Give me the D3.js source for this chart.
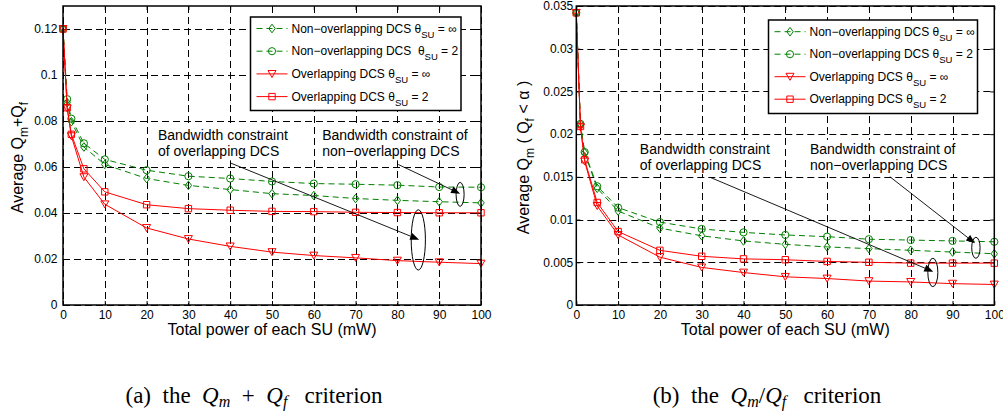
<!DOCTYPE html>
<html><head><meta charset="utf-8">
<script src="https://cdn.jsdelivr.net/npm/d3@7/dist/d3.min.js"></script>
<style>body{margin:0;background:#fff}svg{display:block}text{white-space:pre}</style>
</head><body>
<svg id="chart" width="1003" height="416"></svg>
<script>
// ---------------- data ----------------
const powerMW = [0, 1, 2, 5, 10, 20, 30, 40, 50, 60, 70, 80, 90, 100];
const xTicks = [0, 10, 20, 30, 40, 50, 60, 70, 80, 90, 100];
const xTickLabels = ["0","10","20","30","40","50","60","70","80","90","100"];

// (a) Qm + Qf criterion
const sumNonOvInf = [0.12, 0.088, 0.0797, 0.0687, 0.0611, 0.0550, 0.0520, 0.0502, 0.0484, 0.0476, 0.0463, 0.0455, 0.0449, 0.0444];
const sumNonOv2   = [0.12, 0.0895, 0.0810, 0.0703, 0.0633, 0.0586, 0.0560, 0.0550, 0.0537, 0.0528, 0.0525, 0.0521, 0.0513, 0.0512];
const sumOvInf    = [0.12, 0.0855, 0.0734, 0.0556, 0.0438, 0.0335, 0.0287, 0.0255, 0.0230, 0.0215, 0.0205, 0.0193, 0.0186, 0.0180];
const sumOv2      = [0.12, 0.0858, 0.0742, 0.0592, 0.0492, 0.0436, 0.0419, 0.0412, 0.0407, 0.0406, 0.0403, 0.0402, 0.0401, 0.0401];
const sumYTicks = [0, 0.02, 0.04, 0.06, 0.08, 0.1, 0.12];
const sumYTickLabels = ["0","0.02","0.04","0.06","0.08","0.1","0.12"];

// (b) Qm / Qf criterion
const ratioNonOvInf = [0.0342, 0.0212, 0.0178, 0.01366, 0.0110, 0.0090, 0.0081, 0.0075, 0.0071, 0.0068, 0.0066, 0.0064, 0.0062, 0.0060];
const ratioNonOv2   = [0.0342, 0.0212, 0.0179, 0.0139, 0.0114, 0.0097, 0.0089, 0.0085, 0.0082, 0.0080, 0.0077, 0.0076, 0.0075, 0.0074];
const ratioOvInf    = [0.0342, 0.0208, 0.0168, 0.0116, 0.0082, 0.0056, 0.0044, 0.0038, 0.0033, 0.0031, 0.0028, 0.0027, 0.0025, 0.0024];
const ratioOv2      = [0.0342, 0.0209, 0.0170, 0.0120, 0.0086, 0.0064, 0.0057, 0.0054, 0.0053, 0.0051, 0.0050, 0.0049, 0.0049, 0.0049];
const ratioYTicks = [0, 0.005, 0.01, 0.015, 0.02, 0.025, 0.03, 0.035];
const ratioYTickLabels = ["0","0.005","0.01","0.015","0.02","0.025","0.03","0.035"];

// annotation anchors in data units [x (mW), y]
const sumNotes = {
  text1: [22.7, 0.0716], text2: [62.0, 0.0716],
  arrow1: [[40.0, 0.0618], [85.2, 0.0284]], ellipse1: [85.0, 0.0283, 1.7, 0.0131],
  arrow2: [[80.2, 0.0611], [95.0, 0.0484]], ellipse2: [95.0, 0.0481, 0.96, 0.0052]
};
const ratioNotes = {
  text1: [15.2, 0.01768], text2: [55.9, 0.01768],
  arrow1: [[32.0, 0.01495], [85.4, 0.0039]], ellipse1: [85.3, 0.00381, 1.2, 0.00166],
  arrow2: [[75.0, 0.01502], [95.4, 0.00722]], ellipse2: [95.6, 0.00670, 1.0, 0.00123]
};
const noteText1 = ["Bandwidth constraint", "of overlapping DCS"];
const noteText2 = ["Bandwidth constraint of", "non\u2212overlapping DCS"];

// ---------------- styles ----------------
const GREEN = "#008000", RED = "#ff0000";
const FONT = "'Liberation Sans', Arial, Helvetica, sans-serif";
const svg = d3.select("#chart");

function seriesDefs(a, b, c, d, wideGap) {
  return [
    {values: a, color: GREEN, dash: "6,4", marker: "diamond", pre: "Non\u2212overlapping DCS \u03b8", post: " = \u221e"},
    {values: b, color: GREEN, dash: "6,4", marker: "circle", pre: wideGap ? "Non\u2212overlapping DCS  \u03b8" : "Non\u2212overlapping DCS \u03b8", post: " = 2"},
    {values: c, color: RED, dash: null, marker: "tri", pre: "Overlapping DCS \u03b8", post: " = \u221e"},
    {values: d, color: RED, dash: null, marker: "square", pre: "Overlapping DCS \u03b8", post: " = 2"}
  ];
}

function drawMarker(sel, type, color) {
  if (type === "circle") {
    sel.append("circle").attr("r", 3.6).attr("fill", "none").attr("stroke", color).attr("stroke-width", 1);
  } else {
    let p;
    if (type === "diamond") p = "M0,-4.3L3.2,0L0,4.3L-3.2,0Z";
    else if (type === "tri") p = "M-4,-3.4L4,-3.4L0,3.6Z";
    else p = "M-3.2,-3.2L3.2,-3.2L3.2,3.2L-3.2,3.2Z";
    sel.append("path").attr("d", p).attr("fill", "none").attr("stroke", color).attr("stroke-width", 1);
  }
}

function drawPanel(p) {
  const x = d3.scaleLinear().domain([0, 100]).range([p.left, p.right]);
  const y = d3.scaleLinear().domain(p.yDomain).range([p.bottom, p.top]);
  const g = svg.append("g");

  // grid
  g.append("g").selectAll("line").data(xTicks).join("line")
    .attr("x1", d => Math.round(x(d)) + 0.5).attr("x2", d => Math.round(x(d)) + 0.5).attr("y1", p.top).attr("y2", p.bottom)
    .attr("stroke", "#000").attr("stroke-width", 1).attr("stroke-dasharray", "7,4");
  g.append("g").selectAll("line").data(p.yTicks).join("line")
    .attr("x1", p.left).attr("x2", p.right).attr("y1", d => Math.round(y(d)) + 0.5).attr("y2", d => Math.round(y(d)) + 0.5)
    .attr("stroke", "#000").attr("stroke-width", 1).attr("stroke-dasharray", "7,4");

  // axes
  const fmtX = (d, i) => xTickLabels[i];
  const fmtY = (d, i) => p.yLabels[i];
  const ax = [
    g.append("g").attr("transform", `translate(0,${p.bottom})`).call(d3.axisBottom(x).tickValues(xTicks).tickFormat(fmtX).tickSize(-4).tickSizeOuter(0).tickPadding(5)),
    g.append("g").attr("transform", `translate(0,${p.top})`).call(d3.axisTop(x).tickValues(xTicks).tickFormat("").tickSize(-4).tickSizeOuter(0)),
    g.append("g").attr("transform", `translate(${p.left},0)`).call(d3.axisLeft(y).tickValues(p.yTicks).tickFormat(fmtY).tickSize(-4).tickSizeOuter(0).tickPadding(p.yPad)),
    g.append("g").attr("transform", `translate(${p.right},0)`).call(d3.axisRight(y).tickValues(p.yTicks).tickFormat("").tickSize(-4).tickSizeOuter(0))
  ];
  ax.forEach(a => {
    a.select(".domain").remove();
    a.selectAll("text").attr("font-family", FONT).attr("font-size", 12).attr("fill", "#000");
    a.selectAll("line").attr("stroke", "#000");
  });

  // annotation texts with white background
  [[p.notes.text1, noteText1], [p.notes.text2, noteText2]].forEach(([pos, lines]) => {
    const tg = g.append("g");
    const t = tg.append("text").attr("font-family", FONT).attr("font-size", 14).attr("fill", "#000");
    lines.forEach((s, i) => t.append("tspan").attr("x", x(pos[0])).attr("y", y(pos[1]) + i * 16).text(s));
    const bb = t.node().getBBox();
    tg.insert("rect", "text").attr("x", bb.x - 1).attr("y", bb.y - 1).attr("width", bb.width + 2).attr("height", bb.height + 2).attr("fill", "#fff");
  });

  // series
  const line = d3.line().x((d, i) => x(powerMW[i])).y(d => y(d));
  p.series.forEach(s => {
    g.append("path").datum(s.values).attr("d", line).attr("fill", "none")
      .attr("stroke", s.color).attr("stroke-width", 1).attr("stroke-dasharray", s.dash);
    s.values.forEach((v, i) => {
      const m = g.append("g").attr("transform", `translate(${x(powerMW[i])},${y(v)})`);
      drawMarker(m, s.marker, s.color);
    });
  });

  // arrows and ellipses
  [[p.notes.arrow1, p.notes.ellipse1], [p.notes.arrow2, p.notes.ellipse2]].forEach(([ar, el]) => {
    const x0 = x(ar[0][0]), y0 = y(ar[0][1]), x1 = x(ar[1][0]), y1 = y(ar[1][1]);
    const ang = Math.atan2(y1 - y0, x1 - x0);
    const L = 9, W = 3.6;
    const bx = x1 - L * Math.cos(ang), by = y1 - L * Math.sin(ang);
    g.append("line").attr("x1", x0).attr("y1", y0).attr("x2", bx).attr("y2", by).attr("stroke", "#000").attr("stroke-width", 0.9);
    g.append("path").attr("d", `M${x1},${y1}L${bx + W * Math.sin(ang)},${by - W * Math.cos(ang)}L${bx - W * Math.sin(ang)},${by + W * Math.cos(ang)}Z`).attr("fill", "#000");
    g.append("ellipse").attr("cx", x(el[0])).attr("cy", y(el[1]))
      .attr("rx", x(el[0] + el[2]) - x(el[0])).attr("ry", y(el[1]) - y(el[1] + el[3]))
      .attr("fill", "none").attr("stroke", "#000").attr("stroke-width", 1);
  });

  // border
  g.append("rect").attr("x", p.left).attr("y", p.top).attr("width", p.right - p.left).attr("height", p.bottom - p.top)
    .attr("fill", "none").attr("stroke", "#000").attr("stroke-width", 1.5);

  // legend
  const lg = g.append("g").attr("transform", `translate(${p.legend.x},${p.legend.y})`);
  lg.append("rect").attr("width", p.legend.w).attr("height", p.legend.h).attr("fill", "#fff").attr("stroke", "#000").attr("stroke-width", 1.5);
  p.series.forEach((s, i) => {
    const cy = p.legend.row0 + i * p.legend.dy;
    lg.append("line").attr("x1", 6).attr("x2", 37).attr("y1", cy).attr("y2", cy)
      .attr("stroke", s.color).attr("stroke-width", 1).attr("stroke-dasharray", s.dash);
    drawMarker(lg.append("g").attr("transform", `translate(21.5,${cy})`), s.marker, s.color);
    const t = lg.append("text").attr("x", 41).attr("y", cy + 4).attr("font-family", FONT).attr("font-size", 12).attr("fill", "#000");
    t.append("tspan").text(s.pre);
    t.append("tspan").attr("font-size", 9.5).attr("dy", 5).text("SU");
    t.append("tspan").attr("dy", -5).text(s.post);
  });

  // x label
  g.append("text").attr("x", (p.left + p.right) / 2).attr("y", 335).attr("text-anchor", "middle")
    .attr("font-family", FONT).attr("font-size", 16).text("Total power of each SU (mW)");

  // y label
  const yl = g.append("text").attr("transform", `translate(${p.ylabX},${(p.top + p.bottom) / 2 + 2}) rotate(-90)`)
    .attr("text-anchor", "middle").attr("font-family", FONT).attr("font-size", 16);
  p.ylab(yl);

  // caption
  const cap = g.append("text").attr("x", p.capX).attr("y", 403).attr("text-anchor", "middle")
    .attr("font-family", "'Liberation Serif', 'Times New Roman', serif").attr("font-size", 23);
  p.cap(cap);
}

drawPanel({
  left: 63, right: 481, top: 6, bottom: 305, yDomain: [0, 0.13],
  yTicks: sumYTicks, yLabels: sumYTickLabels, yPad: 5.5,
  series: seriesDefs(sumNonOvInf, sumNonOv2, sumOvInf, sumOv2, true),
  notes: sumNotes,
  legend: {x: 250.5, y: 17, w: 210.5, h: 93.5, row0: 11.5, dy: 22.7},
  ylabX: 23,
  ylab: t => {
    t.append("tspan").text("Average Q");
    t.append("tspan").attr("font-size", 12).attr("dy", 5).text("m");
    t.append("tspan").attr("dy", -5).text("+Q");
    t.append("tspan").attr("font-size", 12).attr("dy", 5).text("f");
  },
  capX: 254,
  cap: t => {
    t.append("tspan").text("(a)  the  ");
    t.append("tspan").attr("font-style", "italic").text("Q");
    t.append("tspan").attr("font-style", "italic").attr("font-size", 16).attr("dy", 4).text("m");
    t.append("tspan").attr("dy", -4).text("  +  ");
    t.append("tspan").attr("font-style", "italic").text("Q");
    t.append("tspan").attr("font-style", "italic").attr("font-size", 16).attr("dy", 4).text("f");
    t.append("tspan").attr("dy", -4).text("   criterion");
  }
});

drawPanel({
  left: 576.3, right: 994.3, top: 6, bottom: 305, yDomain: [0, 0.035],
  yTicks: ratioYTicks, yLabels: ratioYTickLabels, yPad: 3,
  series: seriesDefs(ratioNonOvInf, ratioNonOv2, ratioOvInf, ratioOv2, false),
  notes: ratioNotes,
  legend: {x: 768.5, y: 20, w: 209, h: 93.5, row0: 11.7, dy: 22.5},
  ylabX: 529,
  ylab: t => {
    t.append("tspan").text("Average Q");
    t.append("tspan").attr("font-size", 12).attr("dy", 5).text("m");
    t.append("tspan").attr("dy", -5).text(" ( Q");
    t.append("tspan").attr("font-size", 12).attr("dy", 5).text("f");
    t.append("tspan").attr("dy", -5).text(" < \u03b1 )");
  },
  capX: 767,
  cap: t => {
    t.append("tspan").text("(b)  the  ");
    t.append("tspan").attr("font-style", "italic").text("Q");
    t.append("tspan").attr("font-style", "italic").attr("font-size", 16).attr("dy", 4).text("m");
    t.append("tspan").attr("dy", -4).text("/");
    t.append("tspan").attr("font-style", "italic").text("Q");
    t.append("tspan").attr("font-style", "italic").attr("font-size", 16).attr("dy", 4).text("f");
    t.append("tspan").attr("dy", -4).text("   criterion");
  }
});
</script>
</body></html>
